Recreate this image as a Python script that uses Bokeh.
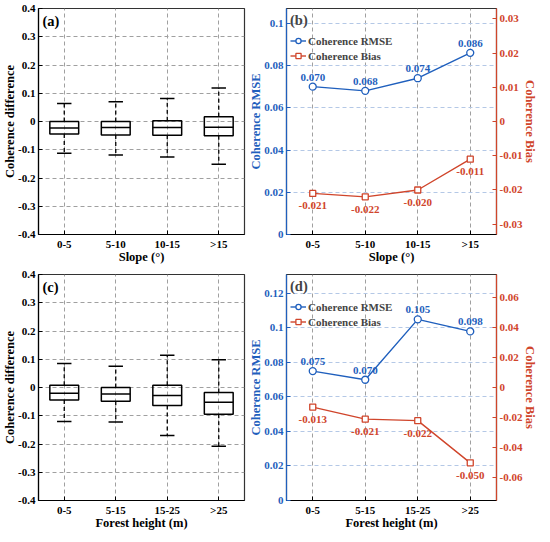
from bokeh.plotting import figure
from bokeh.models import (Range1d, LinearAxis, FixedTicker, CustomJSTickFormatter,
                          ColumnDataSource, LabelSet, Label, Legend, LegendItem)
from bokeh.layouts import column, row
from bokeh.transform import dodge
from bokeh.embed import file_html
from bokeh.resources import INLINE

FONT = "Liberation Serif"
BLUE = "#1f5fbd"
RED = "#d0452b"
GRID_GRAY = "#a0a0a0"
GRID_BLUE = "#b4c8e6"

# ---------------- data ----------------
slope_cats = ["0-5", "5-10", "10-15", ">15"]
slope_upper = [0.064, 0.070, 0.081, 0.119]
slope_q3 = [0.000, 0.000, 0.003, 0.017]
slope_median = [-0.023, -0.021, -0.021, -0.020]
slope_q1 = [-0.044, -0.048, -0.049, -0.050]
slope_lower = [-0.112, -0.119, -0.126, -0.151]

height_cats = ["0-5", "5-15", "15-25", ">25"]
height_upper = [0.085, 0.075, 0.114, 0.098]
height_q3 = [0.008, 0.000, 0.008, -0.018]
height_median = [-0.020, -0.023, -0.028, -0.052]
height_q1 = [-0.044, -0.049, -0.064, -0.095]
height_lower = [-0.120, -0.122, -0.170, -0.208]

slope_rmse = [0.070, 0.068, 0.074, 0.086]
slope_bias = [-0.021, -0.022, -0.020, -0.011]
height_rmse = [0.075, 0.070, 0.105, 0.098]
height_bias = [-0.013, -0.021, -0.022, -0.050]

box_yticks = [-0.4, -0.3, -0.2, -0.1, 0, 0.1, 0.2, 0.3, 0.4]
slope_rmse_ticks = [0, 0.02, 0.04, 0.06, 0.08, 0.1]
slope_bias_ticks = [-0.03, -0.02, -0.01, 0, 0.01, 0.02, 0.03]
height_rmse_ticks = [0, 0.02, 0.04, 0.06, 0.08, 0.1, 0.12]
height_bias_ticks = [-0.06, -0.04, -0.02, 0, 0.02, 0.04, 0.06]

FMT = CustomJSTickFormatter(code="return String(Math.round(tick*1000)/1000);")


def style_axis(ax, color="black", label_standoff=-2):
    ax.axis_line_color = color
    ax.axis_line_width = 1.2
    ax.major_tick_line_color = color
    ax.major_label_text_color = color
    ax.axis_label_text_color = color
    ax.major_tick_in = 4
    ax.major_tick_out = 0
    ax.minor_tick_line_color = None
    ax.major_label_text_font = FONT
    ax.major_label_text_font_style = "bold"
    ax.major_label_text_font_size = "11px"
    ax.major_label_text_line_height = 1.0
    ax.axis_label_text_font = FONT
    ax.axis_label_text_font_style = "bold"
    ax.axis_label_text_font_size = "12.5px"
    ax.axis_label_text_line_height = 1.0
    ax.axis_label_standoff = label_standoff
    ax.major_label_standoff = 3


def base_fig(width, height, yr, cats, xlabel, ylabel, mbl, mbr):
    xs = list(range(1, len(cats) + 1))
    p = figure(width=width, height=height, x_range=Range1d(0.5, len(cats) + 0.5),
               y_range=yr, output_backend="svg", toolbar_location=None,
               min_border_left=mbl, min_border_right=mbr,
               min_border_top=8, min_border_bottom=20)
    p.outline_line_color = "#333333"
    p.outline_line_width = 1.2
    p.background_fill_color = "white"
    p.xaxis.ticker = FixedTicker(ticks=xs)
    p.xaxis.major_label_overrides = {x: c for x, c in zip(xs, cats)}
    p.xaxis.axis_label = xlabel
    p.yaxis.axis_label = ylabel
    p.yaxis.formatter = FMT
    for ax in p.xaxis:
        style_axis(ax, "black", -3)
    p.xgrid.grid_line_color = GRID_GRAY
    p.xgrid.grid_line_dash = "4 3"
    p.ygrid.grid_line_dash = "4 3"
    return p, xs


def box_fig(cats, upper, q3, med, q1, lower, xlabel, tag, width, height, mbl, mbr):
    p, xs = base_fig(width, height, Range1d(-0.4, 0.4), cats, xlabel,
                     "Coherence difference", mbl, mbr)
    p.yaxis.ticker = FixedTicker(ticks=box_yticks)
    for ax in p.yaxis:
        style_axis(ax)
    p.ygrid.grid_line_color = GRID_GRAY
    src = ColumnDataSource(dict(x=xs, upper=upper, q3=q3, med=med, q1=q1, lower=lower))
    p.segment(x0="x", y0="q3", x1="x", y1="upper", source=src, line_color="black",
              line_width=1.3, line_dash="4 3")
    p.segment(x0="x", y0="q1", x1="x", y1="lower", source=src, line_color="black",
              line_width=1.3, line_dash="4 3")
    p.vbar(x="x", top="q3", bottom="q1", width=0.56, source=src, fill_alpha=0,
           line_color="black", line_width=1.5)
    p.segment(x0=dodge("x", -0.28), y0="med", x1=dodge("x", 0.28), y1="med", source=src,
              line_color="black", line_width=1.5)
    p.segment(x0=dodge("x", -0.14), y0="upper", x1=dodge("x", 0.14), y1="upper", source=src,
              line_color="black", line_width=1.5)
    p.segment(x0=dodge("x", -0.14), y0="lower", x1=dodge("x", 0.14), y1="lower", source=src,
              line_color="black", line_width=1.5)
    p.add_layout(Label(x=4, y=0.4, x_units="screen", y_offset=-4, text=tag,
                       text_baseline="top", text_font=FONT, text_font_style="bold",
                       text_font_size="14.5px", text_color="black"))
    return p


def line_fig(cats, rmse, bias, xlabel, tag, width, height, rmse_max, bias_max,
             rmse_ticks, bias_ticks, mbl, mbr):
    p, xs = base_fig(width, height, Range1d(0, rmse_max), cats, xlabel,
                     "Coherence RMSE", mbl, mbr)
    p.yaxis.ticker = FixedTicker(ticks=rmse_ticks)
    for ax in p.yaxis:
        style_axis(ax, BLUE)
    p.ygrid.grid_line_color = GRID_BLUE
    p.extra_y_ranges = {"bias": Range1d(-bias_max, bias_max)}
    rax = LinearAxis(y_range_name="bias", axis_label="Coherence Bias",
                     ticker=FixedTicker(ticks=bias_ticks), formatter=FMT)
    style_axis(rax, RED, -2)
    p.add_layout(rax, "right")

    src = ColumnDataSource(dict(x=xs, rmse=rmse, bias=bias,
                                rmse_txt=[f"{v:.3f}" for v in rmse],
                                bias_txt=[f"{v:.3f}" for v in bias]))
    l1 = p.line("x", "rmse", source=src, line_color=BLUE, line_width=1.4)
    s1 = p.scatter("x", "rmse", source=src, marker="circle", size=7, fill_color="white",
                   line_color=BLUE, line_width=1.3)
    l2 = p.line("x", "bias", source=src, line_color=RED, line_width=1.4, y_range_name="bias")
    s2 = p.scatter("x", "bias", source=src, marker="square", size=6, fill_color="white",
                   line_color=RED, line_width=1.3, y_range_name="bias")
    p.add_layout(LabelSet(x="x", y="rmse", text="rmse_txt", source=src, y_offset=6,
                          text_align="center", text_baseline="bottom", text_color=BLUE,
                          text_font=FONT, text_font_style="bold", text_font_size="11px"))
    p.add_layout(LabelSet(x="x", y="bias", text="bias_txt", source=src, y_offset=-9,
                          y_range_name="bias", text_align="center", text_baseline="top",
                          text_color=RED, text_font=FONT, text_font_style="bold",
                          text_font_size="11px"))
    leg = Legend(items=[LegendItem(label="Coherence RMSE", renderers=[l1, s1]),
                        LegendItem(label="Coherence Bias", renderers=[l2, s2])],
                 location="top_left", title=tag)
    leg.title_text_font = FONT
    leg.title_text_font_style = "bold"
    leg.title_text_font_size = "14.5px"
    leg.title_standoff = 5
    leg.label_text_font = FONT
    leg.label_text_font_style = "bold"
    leg.label_text_font_size = "11px"
    leg.label_height = 13
    leg.glyph_height = 13
    leg.glyph_width = 16
    leg.label_standoff = 2
    leg.spacing = 2
    leg.padding = 2
    leg.margin = 2
    leg.background_fill_alpha = 0
    leg.border_line_alpha = 0
    p.add_layout(leg)
    return p


pa = box_fig(slope_cats, slope_upper, slope_q3, slope_median, slope_q1, slope_lower,
             "Slope (°)", "(a)", 246, 266, 36, 2)
pb = line_fig(slope_cats, slope_rmse, slope_bias, "Slope (°)", "(b)", 294, 266,
              0.107, 0.033, slope_rmse_ticks, slope_bias_ticks, 36, 36)
pc = box_fig(height_cats, height_upper, height_q3, height_median, height_q1, height_lower,
             "Forest height (m)", "(c)", 246, 266, 36, 2)
pd = line_fig(height_cats, height_rmse, height_bias, "Forest height (m)", "(d)", 294, 266,
              0.131, 0.075, height_rmse_ticks, height_bias_ticks, 36, 36)

layout = column(row(pa, pb), row(pc, pd))
open("out.html", "w").write(file_html(layout, INLINE))
